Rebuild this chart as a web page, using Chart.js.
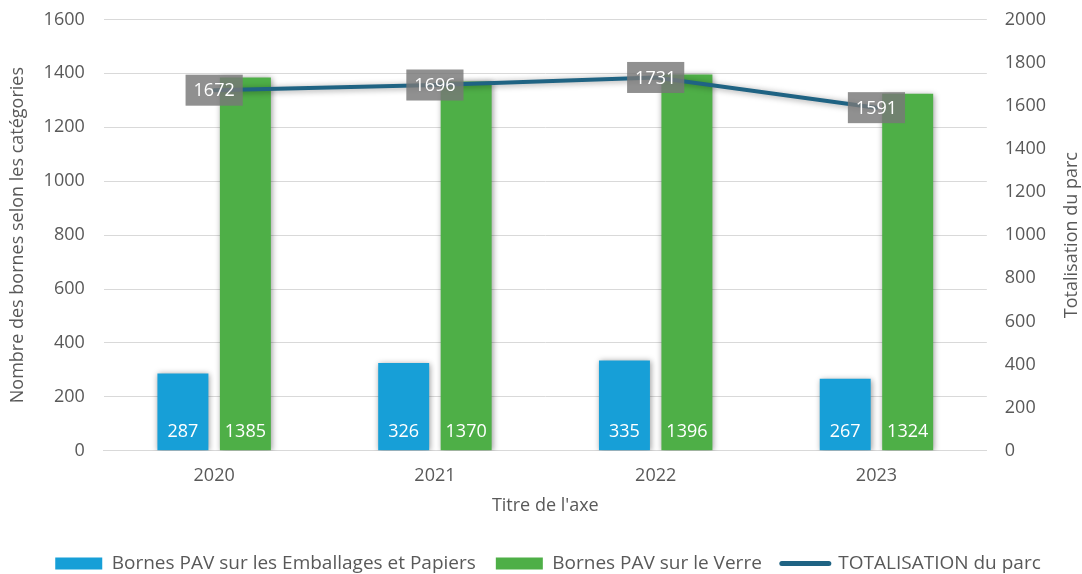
<!DOCTYPE html>
<html>
<head>
<meta charset="utf-8">
<script src="https://cdn.jsdelivr.net/npm/chart.js@4.4.1/dist/chart.umd.min.js"></script>
<style>
html,body{margin:0;padding:0;background:#fff;}
#wrap{width:1082px;height:574px;}
</style>
</head>
<body>
<div id="wrap"><canvas id="c" width="1082" height="574"></canvas></div>
<script>
const categories = ['2020', '2021', '2022', '2023'];
const emballages = [287, 326, 335, 267];
const verre = [1385, 1370, 1396, 1324];
const totalisation = [1672, 1696, 1731, 1591];
const leftTicks = [0, 1600, 200];
const rightTicks = [0, 2000, 200];
const rightTitle = 'Totalisation du parc';

const FONT = "'Open Sans', sans-serif";
const GREY = '#595959';

const shadowPlugin = {
  id: 'shadowPlugin',
  afterLayout(chart) {
    if (chart.legend) {
      chart.legend.top += 9;
      chart.legend.bottom += 9;
      chart.legend.left += 14;
      chart.legend.right += 14;
    }
  },
  beforeDatasetDraw(chart, args) {
    const ctx = chart.ctx;
    ctx.save();
    ctx.shadowColor = 'rgba(0,0,0,0.4)';
    ctx.shadowBlur = 6;
    ctx.shadowOffsetX = 1;
    ctx.shadowOffsetY = 1;
  },
  afterDatasetDraw(chart) {
    chart.ctx.restore();
  }
};

const labelPlugin = {
  id: 'labelPlugin',
  afterDatasetsDraw(chart) {
    const ctx = chart.ctx;
    ctx.save();
    ctx.font = '18px ' + FONT;
    ctx.textAlign = 'center';
    ctx.textBaseline = 'middle';
    [0, 1].forEach(di => {
      const meta = chart.getDatasetMeta(di);
      const data = chart.data.datasets[di].data;
      meta.data.forEach((el, i) => {
        ctx.fillStyle = '#ffffff';
        ctx.fillText(String(data[i]), el.x, el.base - 18);
      });
    });
    const meta = chart.getDatasetMeta(2);
    const data = chart.data.datasets[2].data;
    meta.data.forEach((el, i) => {
      const txt = String(data[i]);
      const w = ctx.measureText(txt).width + 16;
      const h = 31;
      ctx.fillStyle = 'rgba(120,120,120,0.82)';
      ctx.fillRect(el.x - w / 2, el.y - h / 2, w, h);
      ctx.fillStyle = '#ffffff';
      ctx.fillText(txt, el.x, el.y + 1);
    });
    const y1 = chart.scales.y1;
    ctx.font = '18px ' + FONT;
    ctx.fillStyle = GREY;
    ctx.translate(chart.width - 10, (y1.top + y1.bottom) / 2);
    ctx.rotate(-Math.PI / 2);
    ctx.fillText(rightTitle, 0, 0);
    ctx.restore();
  }
};

new Chart(document.getElementById('c'), {
  data: {
    labels: categories,
    datasets: [
      {
        type: 'bar',
        label: 'Bornes PAV sur les Emballages et Papiers',
        data: emballages,
        backgroundColor: '#179FD7',
        yAxisID: 'y',
        categoryPercentage: 0.566,
        barPercentage: 0.816,
        order: 2
      },
      {
        type: 'bar',
        label: 'Bornes PAV sur le Verre',
        data: verre,
        backgroundColor: '#4EAF47',
        yAxisID: 'y',
        categoryPercentage: 0.566,
        barPercentage: 0.816,
        order: 2
      },
      {
        type: 'line',
        label: 'TOTALISATION du parc',
        data: totalisation,
        borderColor: '#1F6383',
        backgroundColor: '#1F6383',
        borderWidth: 4,
        borderCapStyle: 'round',
        pointRadius: 0,
        tension: 0,
        yAxisID: 'y1',
        order: 1
      }
    ]
  },
  options: {
    responsive: false,
    animation: false,
    layout: { padding: { top: 0, left: 4, right: 18, bottom: 0 } },
    plugins: {
      tooltip: { enabled: false },
      legend: {
        position: 'bottom',
        labels: {
          font: { family: FONT, size: 19 },
          color: GREY,
          usePointStyle: true,
          pointStyleWidth: 47,
          boxWidth: 47,
          boxHeight: 12,
          padding: 20,
          generateLabels(chart) {
            const items = Chart.defaults.plugins.legend.labels.generateLabels(chart);
            items.sort((a, b) => a.datasetIndex - b.datasetIndex);
            items.forEach(it => {
              if (it.datasetIndex < 2) { it.pointStyle = 'rect'; it.lineWidth = 0; }
              else { it.pointStyle = 'line'; it.lineWidth = 5; it.lineCap = 'round'; }
            });
            return items;
          }
        }
      }
    },
    scales: {
      x: {
        grid: { display: false, drawTicks: false },
        border: { color: '#d9d9d9', width: 1 },
        ticks: { font: { family: FONT, size: 18 }, color: GREY, padding: 14 },
        title: { display: true, text: "Titre de l'axe", font: { family: FONT, size: 18 }, color: GREY, padding: { top: -5, bottom: 8 } }
      },
      y: {
        position: 'left',
        min: leftTicks[0], max: leftTicks[1],
        ticks: { stepSize: leftTicks[2], font: { family: FONT, size: 18, lineHeight: 0.05 }, color: GREY, padding: 19, callback: v => String(v) },
        grid: { color: '#d9d9d9', drawTicks: false },
        border: { display: false },
        title: { display: true, text: 'Nombre des bornes selon les catégories', font: { family: FONT, size: 18 }, color: GREY, padding: { top: 3, bottom: -4 } }
      },
      y1: {
        position: 'right',
        min: rightTicks[0], max: rightTicks[1],
        ticks: { stepSize: rightTicks[2], font: { family: FONT, size: 18, lineHeight: 0.05 }, color: GREY, padding: 18, callback: v => String(v) },
        grid: { drawOnChartArea: false, drawTicks: false },
        border: { display: false }
      }
    }
  },
  plugins: [shadowPlugin, labelPlugin]
});
</script>
</body>
</html>
